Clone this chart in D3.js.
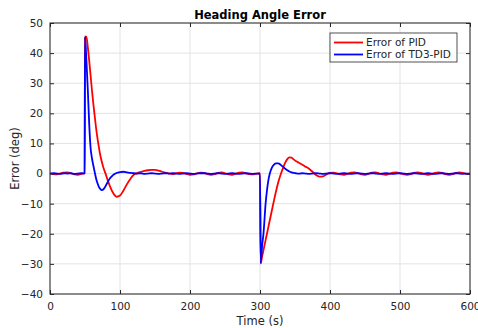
<!DOCTYPE html>
<html>
<head>
<meta charset="utf-8">
<script src="https://cdn.jsdelivr.net/npm/d3@7"></script>
<style>
  body { margin: 0; background: #fff; }
  svg { display: block; font-family: "DejaVu Sans", sans-serif; }
</style>
</head>
<body>
<div id="chart"></div>
<script>
// time samples (s)
const time = [
  0, 5, 10, 15, 20, 25, 30, 35, 40, 45, 49.5,
  50, 52, 54, 56, 58, 60, 62, 64, 66, 68, 70, 72, 74, 76, 78, 80,
  83, 86, 90, 95, 100, 105, 110, 115, 120, 125, 130, 135, 140, 145, 150, 155, 160, 165, 170,
  175, 180, 185, 190, 195, 200, 205, 210, 215, 220, 225, 230, 235, 240, 245, 250, 255, 260, 265, 270, 275, 280, 285, 290, 295, 300,
  301, 303, 305, 308, 310, 312, 314, 317, 320, 323, 326, 330, 333, 336, 339, 342, 345, 348, 351, 354, 357, 360, 365, 370, 375, 380, 385, 390, 395, 400,
  405, 410, 415, 420, 425, 430, 435, 440, 445, 450, 455, 460, 465, 470, 475, 480, 485, 490, 495, 500,
  505, 510, 515, 520, 525, 530, 535, 540, 545, 550, 555, 560, 565, 570, 575, 580, 585, 590, 595, 600
];

// heading error of the PID controller (deg)
const pidError = [
  0.1, -0.2, -0.3, 0.1, 0.3, 0.4, 0.1, -0.3, -0.4, -0.1, 0.1,
  45.0, 45.5, 42.0, 37.5, 32.5, 27.5, 23.0, 18.8, 14.8, 11.4, 8.5, 5.9, 3.9, 2.2, 0.8, -0.5,
  -2.6, -4.4, -6.4, -7.7, -7.3, -5.6, -3.5, -1.7, -0.3, 0.2, 0.6, 0.9, 1.1, 1.2, 1.2, 1.0, 0.6, 0.3, 0.0,
  -0.2, 0.1, 0.3, 0.2, -0.1, -0.4, -0.3, 0.1, 0.3, 0.2, -0.2, -0.4, -0.2, 0.2, 0.4, 0.1, -0.3, -0.4, -0.1, 0.3, 0.4, 0.1, -0.2, -0.3, 0.0, 0.1,
  -29.8, -27.6, -25.4, -22.1, -19.9, -17.7, -15.5, -12.2, -8.9, -5.8, -3.0, 0.0, 1.9, 3.6, 4.8, 5.4, 5.3, 4.7, 4.2, 3.8, 3.4, 3.0, 2.3, 1.6, 0.6, -0.5, -1.0, -0.9, -0.3, 0.2,
  0.3, 0.1, -0.3, -0.4, -0.1, 0.3, 0.4, 0.1, -0.3, -0.4, -0.1, 0.3, 0.4, 0.1, -0.3, -0.4, -0.1, 0.3, 0.4, 0.1,
  -0.2, -0.4, -0.2, 0.2, 0.4, 0.2, -0.2, -0.4, -0.2, 0.2, 0.4, 0.2, -0.2, -0.4, -0.2, 0.2, 0.4, 0.2, -0.1, -0.2
];

// heading error of the TD3-PID controller (deg)
const td3Error = [
  0.0, 0.1, 0.0, -0.1, 0.1, 0.0, 0.1, -0.1, 0.0, 0.1, 0.0,
  45.6, 37.5, 28.0, 16.5, 8.5, 5.0, 2.6, 0.3, -1.8, -3.3, -4.5, -5.2, -5.5, -5.3, -4.7, -3.9,
  -2.6, -1.5, -0.5, 0.2, 0.5, 0.6, 0.4, 0.2, 0.1, 0.0, 0.1, -0.1, 0.0, 0.1, 0.0, -0.1, 0.0, 0.1, 0.0,
  0.1, 0.0, -0.1, 0.0, 0.1, 0.0, -0.1, 0.0, 0.1, 0.1, 0.0, -0.1, 0.0, 0.1, 0.0, -0.1, 0.0, 0.1, 0.0, -0.1, 0.0, 0.1, 0.0, -0.1, 0.0, 0.0,
  -29.8, -24.0, -19.9, -10.0, -5.5, -2.2, 0.0, 2.0, 3.0, 3.4, 3.4, 2.8, 2.2, 1.6, 1.1, 0.7, 0.4, 0.2, 0.1, 0.0, 0.0, 0.1, 0.0, -0.1, 0.0, 0.1, 0.0, -0.1, 0.0, 0.1,
  0.0, -0.1, 0.0, 0.1, 0.0, -0.1, 0.0, 0.1, 0.0, -0.1, 0.0, 0.1, 0.0, -0.1, 0.0, 0.1, 0.0, -0.1, 0.0, 0.1,
  0.0, -0.1, 0.0, 0.1, 0.0, -0.1, 0.0, 0.1, 0.0, -0.1, 0.0, 0.1, 0.0, -0.1, 0.0, 0.1, 0.0, -0.1, 0.0, 0.0
];

const xTicks = [0, 100, 200, 300, 400, 500, 600];
const yTicks = [-40, -30, -20, -10, 0, 10, 20, 30, 40, 50];
const seriesNames = ["Error of PID", "Error of TD3-PID"];
const seriesColors = ["#ff0000", "#0000ff"];

const width = 478, height = 328;
const margin = {top: 23, right: 8, bottom: 34, left: 50};
const innerW = width - margin.left - margin.right;
const innerH = height - margin.top - margin.bottom;
const axisColor = "#262626";

const svg = d3.select("#chart").append("svg")
  .attr("width", width)
  .attr("height", height);

const g = svg.append("g")
  .attr("transform", "translate(" + margin.left + "," + margin.top + ")");

const x = d3.scaleLinear().domain([0, 600]).range([0, innerW]);
const y = d3.scaleLinear().domain([-40, 50]).range([innerH, 0]);

//Grid lines
g.append("g").selectAll("line")
  .data(xTicks)
  .enter().append("line")
  .attr("x1", d => x(d)).attr("x2", d => x(d))
  .attr("y1", 0).attr("y2", innerH)
  .attr("stroke", "#e3e3e3");

g.append("g").selectAll("line")
  .data(yTicks)
  .enter().append("line")
  .attr("x1", 0).attr("x2", innerW)
  .attr("y1", d => y(d)).attr("y2", d => y(d))
  .attr("stroke", "#e3e3e3");

//Series lines
const series = [pidError, td3Error];
const line = d3.line()
  .x(d => x(d[0]))
  .y(d => y(d[1]))
  .curve(d3.curveMonotoneX);

series.forEach((values, i) => {
  g.append("path")
    .datum(time.map((t, k) => [t, values[k]]))
    .attr("fill", "none")
    .attr("stroke", seriesColors[i])
    .attr("stroke-width", 1.8)
    .attr("stroke-linejoin", "round")
    .attr("d", line);
});

//Axes, ticks pointing inward on all four sides
const styleAxis = (sel) => {
  sel.select(".domain").remove();
  sel.selectAll(".tick line").attr("stroke", axisColor);
  sel.selectAll(".tick text")
    .attr("fill", axisColor)
    .style("font-size", "10.5px")
    .style("font-family", "'DejaVu Sans', sans-serif");
};

g.append("g")
  .attr("transform", "translate(0," + innerH + ")")
  .call(d3.axisBottom(x).tickValues(xTicks).tickSizeInner(-4).tickSizeOuter(0).tickPadding(9))
  .call(styleAxis);

g.append("g")
  .call(d3.axisLeft(y).tickValues(yTicks).tickSizeInner(-4).tickSizeOuter(0).tickPadding(7))
  .call(styleAxis);

g.append("g")
  .call(d3.axisTop(x).tickValues(xTicks).tickSizeInner(-4).tickSizeOuter(0).tickFormat(""))
  .call(styleAxis);

g.append("g")
  .attr("transform", "translate(" + innerW + ",0)")
  .call(d3.axisRight(y).tickValues(yTicks).tickSizeInner(-4).tickSizeOuter(0).tickFormat(""))
  .call(styleAxis);

g.append("rect")
  .attr("width", innerW)
  .attr("height", innerH)
  .attr("fill", "none")
  .attr("stroke", axisColor)
  .attr("stroke-width", 1);

//Title and axis labels
svg.append("text")
  .attr("x", margin.left + innerW / 2)
  .attr("y", 19)
  .attr("text-anchor", "middle")
  .style("font-size", "11.5px")
  .style("font-weight", "bold")
  .attr("fill", "#000")
  .text("Heading Angle Error");

svg.append("text")
  .attr("x", margin.left + innerW / 2)
  .attr("y", 325)
  .attr("text-anchor", "middle")
  .style("font-size", "11.5px")
  .attr("fill", axisColor)
  .text("Time (s)");

svg.append("text")
  .attr("transform", "translate(19," + (margin.top + innerH / 2) + ") rotate(-90)")
  .attr("text-anchor", "middle")
  .style("font-size", "11.5px")
  .attr("fill", axisColor)
  .text("Error (deg)");

//Legend
const legend = svg.append("g").attr("transform", "translate(330,33)");

legend.append("rect")
  .attr("width", 127)
  .attr("height", 29)
  .attr("fill", "#fff")
  .attr("stroke", axisColor)
  .attr("stroke-width", 0.8);

seriesNames.forEach((name, i) => {
  const row = legend.append("g").attr("transform", "translate(0," + (9.5 + i * 12) + ")");
  row.append("line")
    .attr("x1", 4).attr("x2", 33)
    .attr("stroke", seriesColors[i])
    .attr("stroke-width", 1.8);
  row.append("text")
    .attr("x", 36)
    .attr("dy", "0.35em")
    .style("font-size", "10.5px")
    .attr("fill", axisColor)
    .text(name);
});
</script>
</body>
</html>
